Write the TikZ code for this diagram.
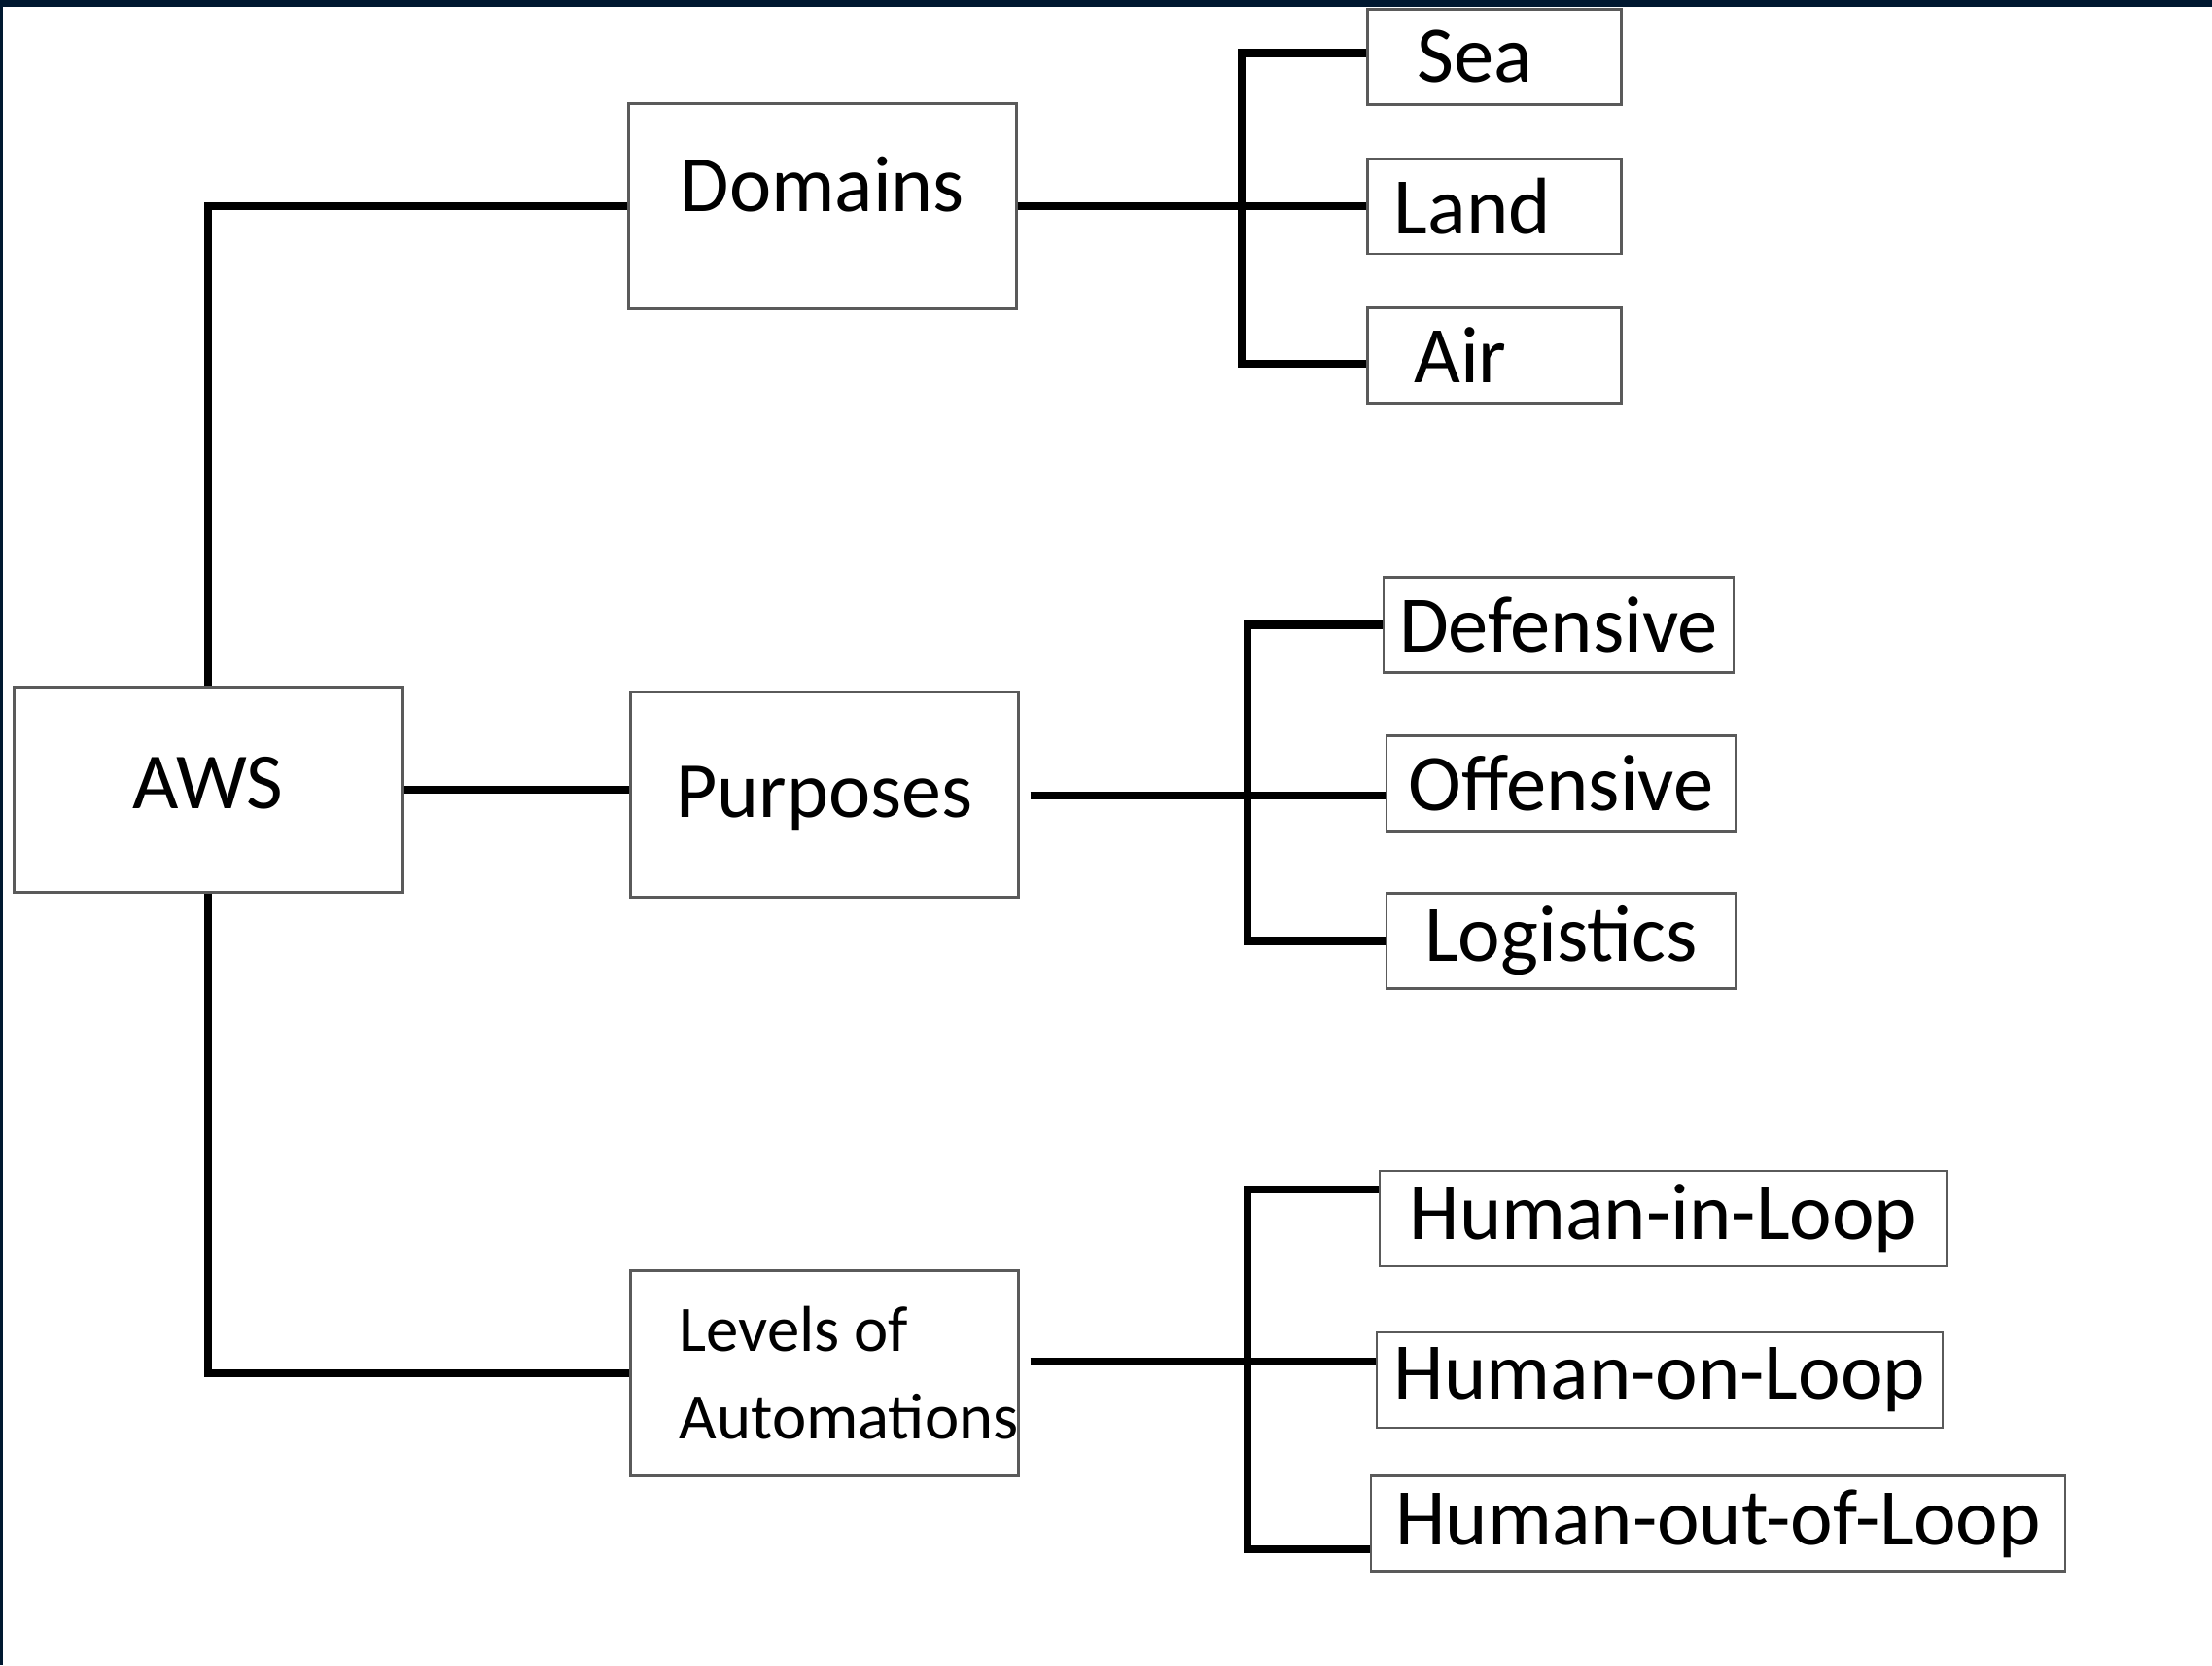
\documentclass[tikz,border=0pt]{standalone}
\usepackage{fontspec}
\setmainfont{Carlito}
\usetikzlibrary{positioning, calc}
\definecolor{framecolor}{RGB}{0, 24, 48}
\definecolor{boxline}{RGB}{90, 90, 90}
\newcommand{\padright}[1]{\rule{#1}{0pt}}

\begin{document}
\begin{tikzpicture}[
    mainbox/.style={draw=boxline, line width=0.7pt, minimum width=3.99cm, minimum height=2.11cm, inner sep=0pt, font=\fontsize{23.3}{28}\selectfont},
    leafbox/.style={draw=boxline, line width=0.7pt, minimum height=0.98cm, inner sep=0pt, font=\fontsize{23.5}{28}\selectfont},
    link/.style={line width=2.5pt, black}
]
    % Frame
    \useasboundingbox (0,0) rectangle (22.75,-17.12);
    \fill[framecolor] (0,0) rectangle (22.75,-0.07);
    \fill[framecolor] (0,0) rectangle (0.03,-17.12);

    % Root and categories
    \node[mainbox, text depth=0.15cm] (aws) at (2.14,-8.12) {AWS};
    \node[mainbox, text depth=0.46cm] (dom) at (8.46,-2.12) {Domains};
    \node[mainbox, text depth=0.05cm] (pur) at (8.48,-8.17) {Purposes};
    \node[mainbox, align=left, font=\fontsize{19}{25.6}\selectfont] (lev) at (8.48,-14.12) {\padright{0.5cm}Levels of\\\padright{0.5cm}Automations};

    % Domains
    \node[leafbox, minimum width=2.61cm] (sea) at (15.37,-0.585) {Sea\padright{0.4cm}};
    \node[leafbox, minimum width=2.61cm] (land) at (15.37,-2.12) {Land\padright{0.45cm}};
    \node[leafbox, minimum width=2.61cm] (air) at (15.37,-3.655) {Air\padright{0.7cm}};

    % Purposes
    \node[leafbox, minimum width=3.60cm] (def) at (16.03,-6.425) {Defensive};
    \node[leafbox, minimum width=3.59cm] (off) at (16.055,-8.055) {Offensive};
    \node[leafbox, minimum width=3.59cm] (log) at (16.055,-9.675) {Logistics};

    % Levels of automation
    \node[leafbox, minimum width=5.83cm] (hil) at (17.105,-12.53) {Human-in-Loop};
    \node[leafbox, minimum width=5.82cm] (hol) at (17.07,-14.19) {Human-on-Loop};
    \node[leafbox, minimum width=7.14cm] (hool) at (17.67,-15.665) {Human-out-of-Loop};

    % Root connectors
    \draw[link] (aws.north) |- (dom.west);
    \draw[link] (aws.east) -- (aws.east -| pur.west);
    \draw[link] (aws.south) |- (lev.west);

    % Domain connectors
    \coordinate (domjoint) at (12.77,-2.12);
    \draw[link] (dom.east) -- (land.west);
    \draw[link] ([yshift=0.04cm]sea.west) -| (domjoint) |- ([yshift=-0.085cm]air.west);

    % Purpose connectors
    \coordinate (purjoint) at (12.83,-8.18);
    \draw[link, shorten <=0.11cm] (pur.east |- purjoint) -- (off.west |- purjoint);
    \draw[link] (def.west) -| (purjoint) |- (log.west);

    % Automation connectors
    \coordinate (levjoint) at (12.83,-14.00);
    \draw[link, shorten <=0.11cm] (lev.east |- levjoint) -- (hol.west |- levjoint);
    \draw[link] ([yshift=0.3cm]hil.west) -| (levjoint) |- ([yshift=-0.265cm]hool.west);
\end{tikzpicture}
\end{document}
